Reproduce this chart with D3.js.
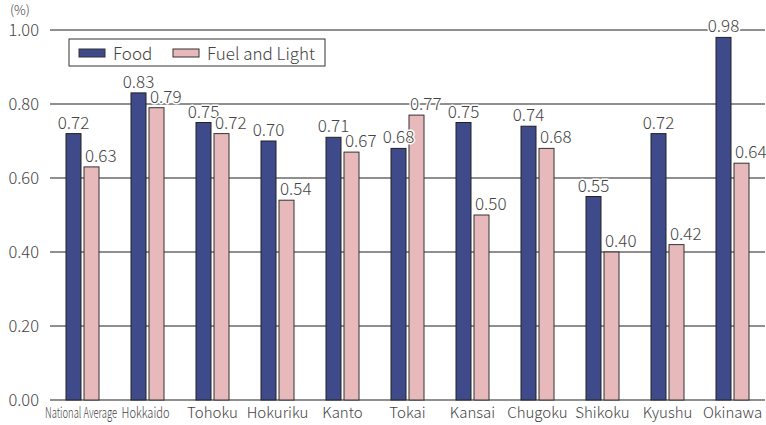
<!DOCTYPE html>
<html><head><meta charset="utf-8">
<script src="https://cdn.jsdelivr.net/npm/d3@7"></script>
<style>
body{margin:0;background:#fff;}
text{font-family:"Noto Sans CJK JP","Noto Sans",sans-serif;font-weight:300;}
</style></head>
<body><svg id="c" width="766" height="425"></svg>
<script>
const categories = ["National Average","Hokkaido","Tohoku","Hokuriku","Kanto","Tokai","Kansai","Chugoku","Shikoku","Kyushu","Okinawa"];
const food = [0.72,0.83,0.75,0.70,0.71,0.68,0.75,0.74,0.55,0.72,0.98];
const fuel = [0.63,0.79,0.72,0.54,0.67,0.77,0.50,0.68,0.40,0.42,0.64];
const yTicks = [0,0.2,0.4,0.6,0.8,1.0];
const seriesNames = ["Food","Fuel and Light"];
const colors = ["#3f4a8a","#e8b9bb"];

(function(){
const svg = d3.select("#c");
const mLeft = 50, mRight = 765, mTop = 30, mBottom = 400;
const x = d3.scaleBand().domain(categories).range([mLeft, mRight]).paddingInner(0).paddingOuter(0);
const y = d3.scaleLinear().domain([0,1]).range([mBottom, mTop]);

svg.append("g").selectAll("line").data(yTicks).join("line")
  .attr("x1", mLeft).attr("x2", mRight)
  .attr("y1", d=>y(d)).attr("y2", d=>y(d))
  .attr("stroke", "#6a6a6a").attr("stroke-width", 1.5);

svg.append("g").selectAll("text").data(yTicks).join("text")
  .attr("x", 39).attr("y", d=>y(d)+6)
  .attr("text-anchor","end").attr("font-size",16.5).attr("fill","#444")
  .text(d=>d3.format(".2f")(d));
svg.append("text").attr("x",10).attr("y",15).attr("font-size",13).attr("fill","#444").text("(%)");

const bw = 15, gap = 3;
const cx = c => x(c) + x.bandwidth()/2;

const g = svg.append("g");
g.selectAll("rect.food").data(categories).join("rect").attr("class","food")
  .attr("x", c => cx(c) - gap/2 - bw).attr("width", bw)
  .attr("y", (c,i)=>y(food[i])).attr("height",(c,i)=>mBottom - y(food[i]))
  .attr("fill", colors[0]).attr("stroke","#222").attr("stroke-width",1);
g.selectAll("rect.fuel").data(categories).join("rect").attr("class","fuel")
  .attr("x", c => cx(c) + gap/2).attr("width", bw)
  .attr("y", (c,i)=>y(fuel[i])).attr("height",(c,i)=>mBottom - y(fuel[i]))
  .attr("fill", colors[1]).attr("stroke","#333").attr("stroke-width",1);

const lab = svg.append("g").attr("font-size",17).attr("fill","#444")
  .attr("stroke","#fff").attr("stroke-width",3).attr("paint-order","stroke").attr("stroke-linejoin","round");
lab.selectAll("text.f").data(categories).join("text").attr("class","f")
  .attr("x", c => cx(c) - gap/2 - bw/2).attr("y",(c,i)=>y(food[i])-5)
  .attr("text-anchor","middle").text((c,i)=>food[i].toFixed(2));
lab.selectAll("text.u").data(categories).join("text").attr("class","u")
  .attr("x", c => cx(c) + gap/2 + 1).attr("y",(c,i)=>y(fuel[i])-5)
  .attr("text-anchor","start").text((c,i)=>fuel[i].toFixed(2));

const fit = {"National Average":[81,72], "Hokkaido":[145.5,48]};
svg.append("g").selectAll("text").data(categories).join("text")
  .attr("text-anchor","middle").attr("font-size",15).attr("fill","#444")
  .each(function(c){
    const t = d3.select(this).text(c);
    if (fit[c]) {
      const w = this.getComputedTextLength();
      const s = fit[c][1] / w;
      t.attr("x",0).attr("y",0).attr("transform",`translate(${fit[c][0]},418) scale(${s},1)`);
    } else {
      t.attr("x", cx(c)).attr("y", 418);
    }
  });

const lg = svg.append("g");
lg.append("rect").attr("x",69).attr("y",39).attr("width",256).attr("height",27)
  .attr("fill","#fff").attr("stroke","#333").attr("stroke-width",1);
const items = [{x:79, tx:113},{x:173, tx:207}];
items.forEach((it,i)=>{
  lg.append("rect").attr("x",it.x).attr("y",49).attr("width",26).attr("height",8)
    .attr("fill",colors[i]).attr("stroke","#333").attr("stroke-width",1);
  lg.append("text").attr("x",it.tx).attr("y",59.5).attr("font-size",17).attr("fill","#444").text(seriesNames[i]);
});
})();
</script></body></html>
